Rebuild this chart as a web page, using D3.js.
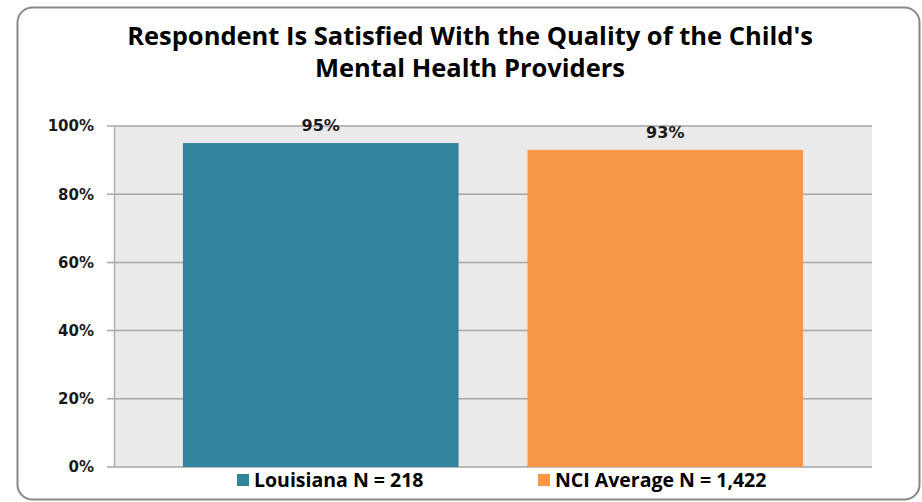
<!DOCTYPE html>
<html>
<head>
<meta charset="utf-8">
<script src="https://cdn.jsdelivr.net/npm/d3@7"></script>
<style>
  html, body { margin: 0; padding: 0; background: #fff; }
  svg { display: block; }
</style>
</head>
<body>
<svg id="chart" width="922" height="502"></svg>
<script>
// Chart data
const titleLines = ["Respondent Is Satisfied With the Quality of the Child's", "Mental Health Providers"];
const seriesNames = ["Louisiana N = 218", "NCI Average N = 1,422"];
const seriesValues = [95, 93];
const seriesColors = ["#31849B", "#F79646"];
const yTicks = [0, 20, 40, 60, 80, 100];

const svg = d3.select("#chart");
const plot = { left: 114, right: 872, top: 126, bottom: 467 };

const textFont = "'Open Sans', Lato, sans-serif";
const numFont = "'DejaVu Sans', Verdana, sans-serif";

// Outer rounded frame
svg.append("rect")
  .attr("x", 17.5).attr("y", 7.5)
  .attr("width", 902).attr("height", 492)
  .attr("rx", 15).attr("ry", 15)
  .attr("fill", "#fff")
  .attr("stroke", "#888")
  .attr("stroke-width", 2);

// Scales
const x = d3.scaleBand()
  .domain(seriesNames)
  .range([plot.left, plot.right])
  .paddingInner(0.2)
  .paddingOuter(0.2);

const y = d3.scaleLinear()
  .domain([0, 100])
  .range([plot.bottom, plot.top]);

// Plot background
svg.append("rect")
  .attr("x", plot.left).attr("y", plot.top)
  .attr("width", plot.right - plot.left)
  .attr("height", plot.bottom - plot.top)
  .attr("fill", "#EAEAEA");

// Horizontal gridlines
svg.append("g")
  .selectAll("line")
  .data(yTicks)
  .join("line")
  .attr("x1", plot.left - 7).attr("x2", plot.right)
  .attr("y1", d => y(d)).attr("y2", d => y(d))
  .attr("stroke", "#A6A6A6")
  .attr("stroke-width", 1.5);

// Value axis
const yAxis = d3.axisLeft(y)
  .tickValues(yTicks)
  .tickFormat(d => d + "%")
  .tickSize(0)
  .tickPadding(20);

const gy = svg.append("g")
  .attr("transform", `translate(${plot.left},0)`)
  .call(yAxis);
gy.select(".domain").attr("stroke", "#B0B0B0").attr("stroke-width", 1.5);
gy.selectAll("text")
  .attr("font-family", numFont)
  .attr("font-weight", "bold")
  .attr("font-size", 15)
  .attr("fill", "#1a1a1a");

// Bars
svg.append("g")
  .selectAll("rect")
  .data(seriesNames)
  .join("rect")
  .attr("x", d => x(d))
  .attr("y", (d, i) => y(seriesValues[i]))
  .attr("width", x.bandwidth())
  .attr("height", (d, i) => y(0) - y(seriesValues[i]))
  .attr("fill", (d, i) => seriesColors[i]);

// Value labels
svg.append("g")
  .selectAll("text")
  .data(seriesNames)
  .join("text")
  .attr("x", d => x(d) + x.bandwidth() / 2)
  .attr("y", (d, i) => y(seriesValues[i]) - 12)
  .attr("text-anchor", "middle")
  .attr("font-family", numFont)
  .attr("font-weight", "bold")
  .attr("font-size", 16)
  .attr("fill", "#1a1a1a")
  .text((d, i) => seriesValues[i] + "%");

// Title
svg.append("g")
  .selectAll("text")
  .data(titleLines)
  .join("text")
  .attr("x", 470)
  .attr("y", (d, i) => 45 + i * 32)
  .attr("text-anchor", "middle")
  .attr("font-family", textFont)
  .attr("font-weight", "bold")
  .attr("font-size", 25.5)
  .attr("fill", "#000")
  .text(d => d);

// Legend
const legendX = [237, 538];
const legend = svg.append("g")
  .selectAll("g")
  .data(seriesNames)
  .join("g")
  .attr("transform", (d, i) => `translate(${legendX[i]},474)`);
legend.append("rect")
  .attr("width", 12).attr("height", 12)
  .attr("fill", (d, i) => seriesColors[i]);
legend.append("text")
  .attr("x", 17).attr("y", 12.5)
  .attr("font-family", textFont)
  .attr("font-weight", "bold")
  .attr("font-size", 19.5)
  .attr("fill", "#000")
  .text(d => d);
</script>
</body>
</html>
